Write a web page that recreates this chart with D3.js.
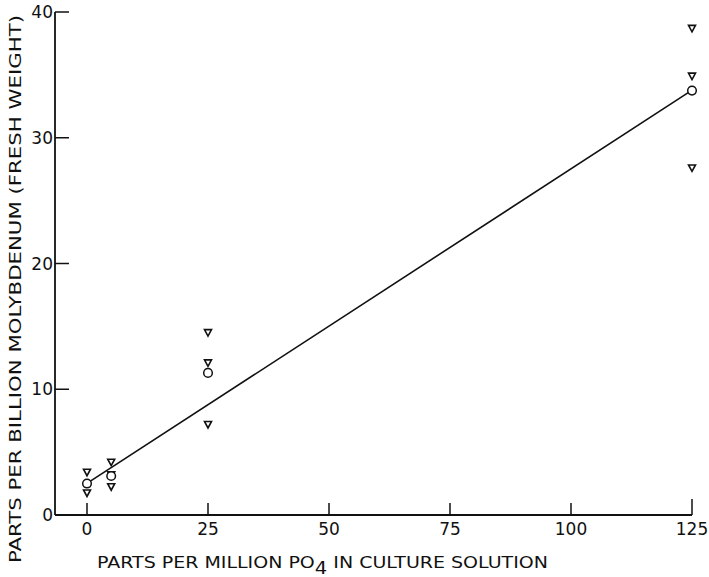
<!DOCTYPE html>
<html><head><meta charset="utf-8">
<script src="https://cdn.jsdelivr.net/npm/d3@7"></script>
<style>body{margin:0;background:#fff}svg{display:block}text{font-family:"DejaVu Sans",sans-serif;fill:#111}</style>
</head><body>
<script>
const xTicks = [0, 25, 50, 75, 100, 125];
const yTicks = [0, 10, 20, 30, 40];
// individual determinations (triangles)
const triX = [0, 0, 5, 5, 5, 25, 25, 25, 125, 125, 125];
const triY = [3.4, 1.75, 4.2, 3.2, 2.25, 14.5, 12.1, 7.2, 38.7, 34.9, 27.6];
// means (circles)
const meanX = [0, 5, 25, 125];
const meanY = [2.5, 3.1, 11.3, 33.75];
// fitted line endpoints
const lineX = [0, 125];
const lineY = [2.55, 33.75];

const W = 709, H = 577;
const svg = d3.select("body").append("svg").attr("width", W).attr("height", H);
const x = d3.scaleLinear().domain([0, 125]).range([87, 692]);
const y = d3.scaleLinear().domain([0, 40]).range([515, 12]);
const ink = "#111";

// axes
svg.append("line").attr("x1", 55).attr("x2", x(125)).attr("y1", y(0)).attr("y2", y(0)).attr("stroke", ink).attr("stroke-width", 1.8);
svg.append("line").attr("x1", 55).attr("x2", 55).attr("y1", y(0)).attr("y2", y(40)).attr("stroke", ink).attr("stroke-width", 1.8);
svg.selectAll(".xt").data(xTicks).join("line").attr("x1", d => x(d)).attr("x2", d => x(d))
  .attr("y1", y(0)).attr("y2", d => d === 125 ? y(0) - 16 : y(0) - 12).attr("stroke", ink).attr("stroke-width", 1.5);
svg.selectAll(".yt").data(yTicks.filter(d => d > 0)).join("line").attr("x1", 55).attr("x2", 69)
  .attr("y1", d => y(d)).attr("y2", d => y(d)).attr("stroke", ink).attr("stroke-width", 1.5);

svg.selectAll(".xl").data(xTicks).join("text").attr("x", d => x(d)).attr("y", 535)
  .attr("text-anchor", "middle").attr("font-size", 17).text(d => d);
svg.selectAll(".yl").data(yTicks).join("text").attr("x", 53).attr("y", d => y(d) + 6)
  .attr("text-anchor", "end").attr("font-size", 17).text(d => d);

// titles
const xt = svg.append("text").attr("x", 97).attr("y", 568).attr("font-size", 16.5).attr("textLength", 451).attr("lengthAdjust", "spacingAndGlyphs");
xt.append("tspan").text("PARTS PER MILLION PO");
xt.append("tspan").attr("dy", 6).attr("font-size", 17).text("4");
xt.append("tspan").attr("dy", -6).text(" IN CULTURE SOLUTION");
svg.append("text").attr("transform", "translate(21,563) rotate(-90)").attr("font-size", 16.5)
  .attr("textLength", 548).attr("lengthAdjust", "spacingAndGlyphs")
  .text("PARTS PER BILLION MOLYBDENUM (FRESH WEIGHT)");

// regression line
svg.append("line").attr("x1", x(lineX[0]) + 3).attr("y1", y(lineY[0]) - 1.5).attr("x2", x(lineX[1]) - 3).attr("y2", y(lineY[1]) + 1.5)
  .attr("stroke", ink).attr("stroke-width", 1.6);

// triangles
const tri = d3.range(triX.length);
svg.selectAll(".tri").data(tri).join("path")
  .attr("d", i => { const cx = x(triX[i]), cy = y(triY[i]); return `M${cx-3.5},${cy-3}L${cx+3.5},${cy-3}L${cx},${cy+3.5}Z`; })
  .attr("fill", "#fff").attr("stroke", ink).attr("stroke-width", 1.6);
// circles
svg.selectAll(".mc").data(d3.range(meanX.length)).join("circle")
  .attr("cx", i => x(meanX[i])).attr("cy", i => y(meanY[i])).attr("r", 4.3)
  .attr("fill", "#fff").attr("stroke", ink).attr("stroke-width", 1.5);
</script>
</body></html>
